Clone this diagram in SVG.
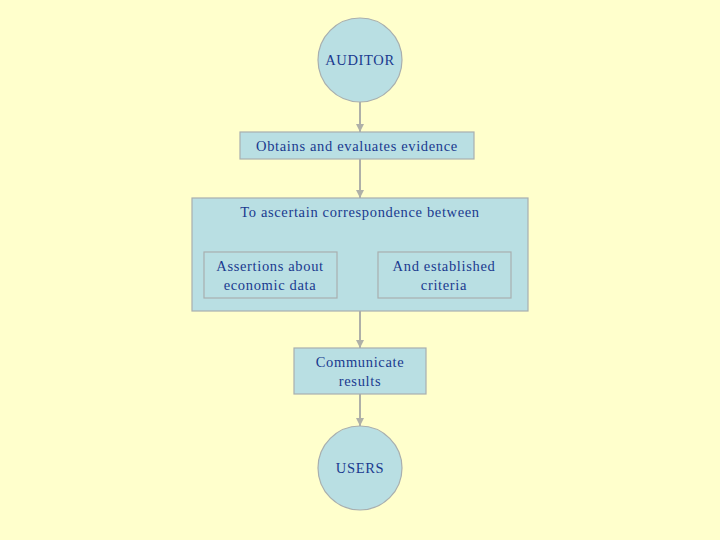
<svg xmlns="http://www.w3.org/2000/svg" width="720" height="540" viewBox="0 0 720 540">
<style>
.n{fill:#B9DFE3;stroke:#A8AFAF;stroke-width:1.2}
.t{font-family:"Liberation Serif","Times New Roman",serif;font-size:14.5px;letter-spacing:0.65px;fill:#1A3A8F;text-anchor:middle}
.c{stroke:#AEB0A8;stroke-width:2;fill:none;marker-end:url(#ah)}
</style>
<defs>
<marker id="ah" viewBox="0 0 10 10" refX="10" refY="5" markerWidth="4" markerHeight="4" orient="auto" markerUnits="strokeWidth">
<path d="M0,0 L10,5 L0,10 z" fill="#AEB0A8"/>
</marker>
</defs>
<rect width="720" height="540" fill="#FFFFCC"/>
<g id="connectors">
<line class="c" x1="360" y1="102" x2="360" y2="132"/>
<line class="c" x1="360" y1="159" x2="360" y2="198"/>
<line class="c" x1="360" y1="311" x2="360" y2="348"/>
<line class="c" x1="360" y1="394" x2="360" y2="426"/>
</g>
<g id="auditor">
<circle class="n" cx="360" cy="60" r="42"/>
<text class="t" x="360" y="65">AUDITOR</text>
</g>
<g id="obtains">
<rect class="n" x="240" y="132" width="234" height="27"/>
<text class="t" x="357" y="151">Obtains and evaluates evidence</text>
</g>
<g id="ascertain">
<rect class="n" x="192" y="198" width="336" height="113"/>
<text class="t" x="360" y="217">To ascertain correspondence between</text>
</g>
<g id="assertions">
<rect class="n" x="204" y="252" width="133" height="46"/>
<text class="t" x="270" y="271">Assertions about</text>
<text class="t" x="270" y="290">economic data</text>
</g>
<g id="criteria">
<rect class="n" x="378" y="252" width="133" height="46"/>
<text class="t" x="444" y="271">And established</text>
<text class="t" x="444" y="290">criteria</text>
</g>
<g id="communicate">
<rect class="n" x="294" y="348" width="132" height="46"/>
<text class="t" x="360" y="367">Communicate</text>
<text class="t" x="360" y="386">results</text>
</g>
<g id="users">
<circle class="n" cx="360" cy="468" r="42"/>
<text class="t" x="360" y="473">USERS</text>
</g>
</svg>
